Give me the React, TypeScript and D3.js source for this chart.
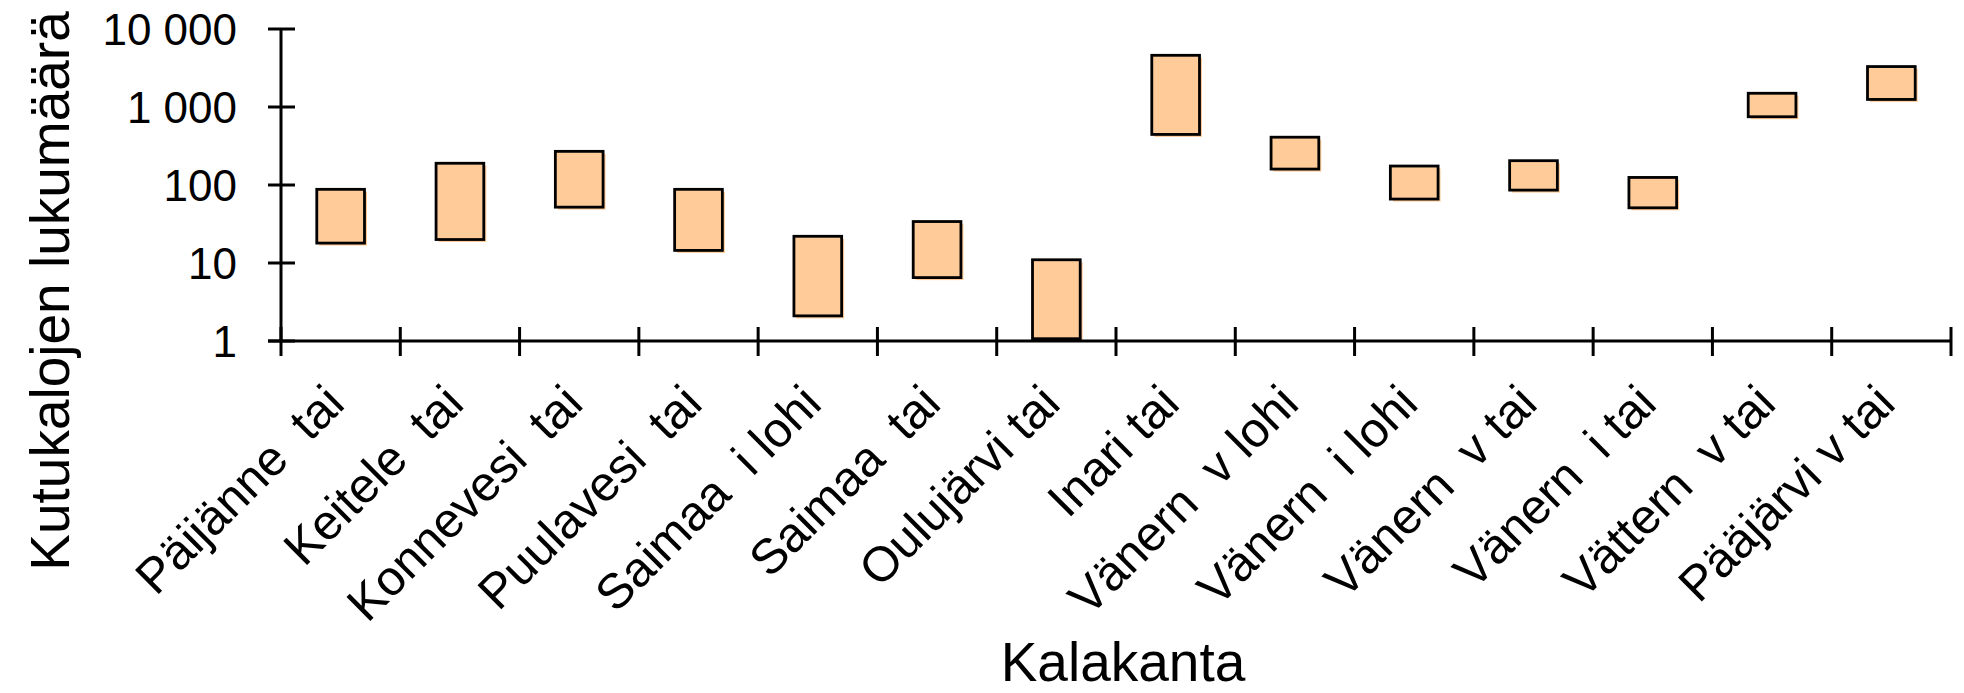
import React, { useEffect, useRef } from 'react'
import * as d3 from 'd3'

const categories = [
  'Päijänne  tai',
  'Keitele  tai',
  'Konnevesi  tai',
  'Puulavesi  tai',
  'Saimaa  i lohi',
  'Saimaa  tai',
  'Oulujärvi tai',
  'Inari tai',
  'Vänern  v lohi',
  'Vänern  i lohi',
  'Vänern  v tai',
  'Vänern  i tai',
  'Vättern  v tai',
  'Pääjärvi v tai',
]
const lowValues = [18, 20, 52, 14.5, 2.1, 6.5, 1.07, 445, 160, 66, 86, 51, 750, 1250]
const highValues = [88, 190, 270, 88, 22, 34, 11, 4600, 410, 175, 205, 125, 1500, 3300]
const yTicks = [1, 10, 100, 1000, 10000]
const yTickLabels = ['1', '10', '100', '1 000', '10 000']

const W = 1964
const H = 693
const FONT = '"Liberation Sans", Arial, sans-serif'

const App = () => {
  const svg = useRef(null)

  useEffect(() => {
    const d3svg = d3.select(svg.current)
    d3svg.selectAll('*').remove()

    const x = d3.scaleBand().domain(categories).range([281, 1951]).padding(0)
    const y = d3.scaleLog().domain([1, 10000]).range([341, 29])
    const barW = x.bandwidth() * 0.4

    const rows = categories.map((c, i) => ({ name: c, lo: lowValues[i], hi: highValues[i] }))

    // orange shadow behind each box
    d3svg
      .selectAll('.shadow')
      .data(rows)
      .enter()
      .append('rect')
      .attr('class', 'shadow')
      .attr('x', d => x(d.name) + x.bandwidth() / 2 - barW / 2 + 2.5)
      .attr('y', d => y(d.hi) + 2.5)
      .attr('width', barW)
      .attr('height', d => y(d.lo) - y(d.hi))
      .attr('fill', '#FFCC99')

    d3svg
      .selectAll('.box')
      .data(rows)
      .enter()
      .append('rect')
      .attr('class', 'box')
      .attr('x', d => x(d.name) + x.bandwidth() / 2 - barW / 2)
      .attr('y', d => y(d.hi))
      .attr('width', barW)
      .attr('height', d => y(d.lo) - y(d.hi))
      .attr('fill', '#FFCC99')
      .attr('stroke', '#000')
      .attr('stroke-width', 2.8)

    // axes
    const axisG = d3svg.append('g').attr('stroke', '#000').attr('stroke-width', 3)
    axisG.append('line').attr('x1', 281).attr('x2', 281).attr('y1', y(10000)).attr('y2', y(1))
    axisG.append('line').attr('x1', 268).attr('x2', 1951).attr('y1', y(1)).attr('y2', y(1))

    axisG
      .selectAll('.ytick')
      .data(yTicks)
      .enter()
      .append('line')
      .attr('x1', 268)
      .attr('x2', 295)
      .attr('y1', d => y(d))
      .attr('y2', d => y(d))

    const xTickPos = categories.map(c => x(c)).concat([x.range()[1]])
    axisG
      .selectAll('.xtick')
      .data(xTickPos)
      .enter()
      .append('line')
      .attr('x1', d => d)
      .attr('x2', d => d)
      .attr('y1', y(1) - 14)
      .attr('y2', y(1) + 15)

    d3svg
      .selectAll('.ylabel')
      .data(yTicks)
      .enter()
      .append('text')
      .attr('x', 237)
      .attr('y', d => y(d) + 16)
      .attr('text-anchor', 'end')
      .attr('font-family', FONT)
      .attr('font-size', 44)
      .text((d, i) => yTickLabels[i])

    // rotated category labels
    d3svg
      .selectAll('.xlabel')
      .data(categories)
      .enter()
      .append('text')
      .attr('transform', d => `translate(${x(d) + x.bandwidth() / 2 + 6}, 406) rotate(-45)`)
      .attr('text-anchor', 'end')
      .attr('font-family', FONT)
      .attr('font-size', 49)
      .style('white-space', 'pre')
      .text(d => d)

    d3svg
      .append('text')
      .attr('transform', 'translate(69, 291) rotate(-90)')
      .attr('text-anchor', 'middle')
      .attr('font-family', FONT)
      .attr('font-size', 55)
      .text('Kutukalojen lukumäärä')

    d3svg
      .append('text')
      .attr('x', 1123)
      .attr('y', 681)
      .attr('text-anchor', 'middle')
      .attr('font-family', FONT)
      .attr('font-size', 55)
      .text('Kalakanta')
  }, [])

  return (
    <svg
      ref={svg}
      width={W}
      height={H}
      style={{ position: 'absolute', left: 0, top: 0, background: '#fff' }}
    ></svg>
  )
}

export default App
